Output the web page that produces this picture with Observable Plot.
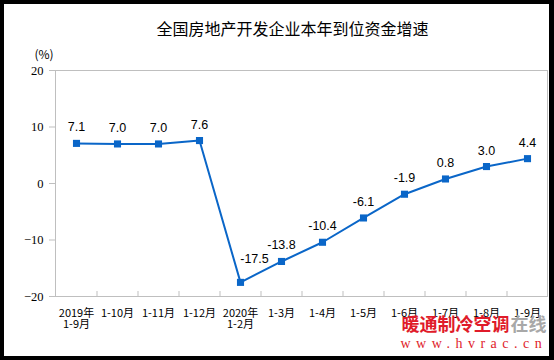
<!DOCTYPE html>
<html><head><meta charset="utf-8">
<script src="https://cdn.jsdelivr.net/npm/d3@7"></script>
<script src="https://cdn.jsdelivr.net/npm/@observablehq/plot@0.6"></script>
<style>html,body{margin:0;padding:0;background:#fff;}</style>
</head><body><div id="chart"></div>
<script>
const categories = ["2019年\n1-9月", "1-10月", "1-11月", "1-12月", "2020年\n1-2月", "1-3月", "1-4月", "1-5月", "1-6月", "1-7月", "1-8月", "1-9月"];
const values = [7.1, 7.0, 7.0, 7.6, -17.5, -13.8, -10.4, -6.1, -1.9, 0.8, 3.0, 4.4];
const yTicks = [-20, -10, 0, 10, 20];
const title = "全国房地产开发企业本年到位资金增速";
const unitLabel = "(%)";
const watermarkRed = "暖通制冷空调";
const watermarkGray = "在线";
const watermarkUrl = "www.hvrac.cn";

const data = categories.map((c, i) => ({cat: c, v: values[i], label: values[i].toFixed(1)}));
const blue = "#0a66c8";
const grid = "#bfbfbf";
const special = (d) => d.v === -17.5;

const plot = Plot.plot({
  width: 554,
  height: 360,
  marginLeft: 55,
  marginRight: 7,
  marginTop: 70,
  marginBottom: 64,
  style: {fontFamily: "'Liberation Sans', Arial, sans-serif", color: "#000", background: "#fff"},
  x: {type: "point", domain: categories, padding: 0.5},
  y: {domain: [-20, 20]},
  marks: [
    Plot.frame({stroke: grid}),
    Plot.ruleX(categories.slice(0, 11), {x: d => d, dx: 20.5, insetTop: 221, stroke: grid}),
    Plot.axisY({ticks: yTicks, tickSize: 6, tickPadding: 6, stroke: grid, label: null,
      fontFamily: "'Liberation Serif', 'Times New Roman', serif", fontSize: 12.5}),
    Plot.axisX({tickSize: 0, tickPadding: 12, label: null,
      fontFamily: "'Noto Sans CJK SC', sans-serif", fontSize: 11, lineHeight: 1.05}),
    Plot.line(data, {x: "cat", y: "v", stroke: blue, strokeWidth: 2}),
    Plot.dot(data, {x: "cat", y: "v", symbol: "square", r: 4, fill: blue, stroke: "none"}),
    Plot.text(data.filter(d => !special(d)), {x: "cat", y: "v", text: "label", dy: -16, fontSize: 12.5, fill: "#000"}),
    Plot.text(data.filter(special), {x: "cat", y: "v", text: "label", dy: -23, dx: 14, fontSize: 12.5, fill: "#000"}),
    Plot.text([title], {frameAnchor: "top", text: d => d, dy: -47, dx: -9, fontSize: 16,
      fontFamily: "'Noto Sans CJK SC', sans-serif", fill: "#000"}),
    Plot.text([unitLabel], {frameAnchor: "top-left", text: d => d, dy: -20, dx: -21, fontSize: 12,
      fontFamily: "'Noto Sans CJK SC', sans-serif", fill: "#000"}),
    Plot.text([watermarkRed], {frameAnchor: "bottom-right", text: d => d, dx: -38, dy: 34, textAnchor: "end",
      fontSize: 18, fontWeight: "bold", fontFamily: "'Noto Sans CJK SC', sans-serif", fill: "#e01b2a"}),
    Plot.text([watermarkGray], {frameAnchor: "bottom-right", text: d => d, dx: -1, dy: 34, textAnchor: "end",
      fontSize: 18, fontWeight: "bold", fontFamily: "'Noto Sans CJK SC', sans-serif", fill: "#a8a8a8"}),
    Plot.text([watermarkUrl], {frameAnchor: "bottom-right", text: d => d, dx: -147, dy: 51, textAnchor: "start",
      fontSize: 14, fontFamily: "'Liberation Serif', serif", fill: "#e01b2a"})
  ]
});
d3.select(plot).selectAll("text").filter(function() { return this.textContent === watermarkUrl; })
  .attr("letter-spacing", 5.5);
plot.style.boxShadow = "inset 4px 4px 0 #000, inset -5px -4px 0 #000";
document.getElementById("chart").appendChild(plot);
</script>
</body></html>
